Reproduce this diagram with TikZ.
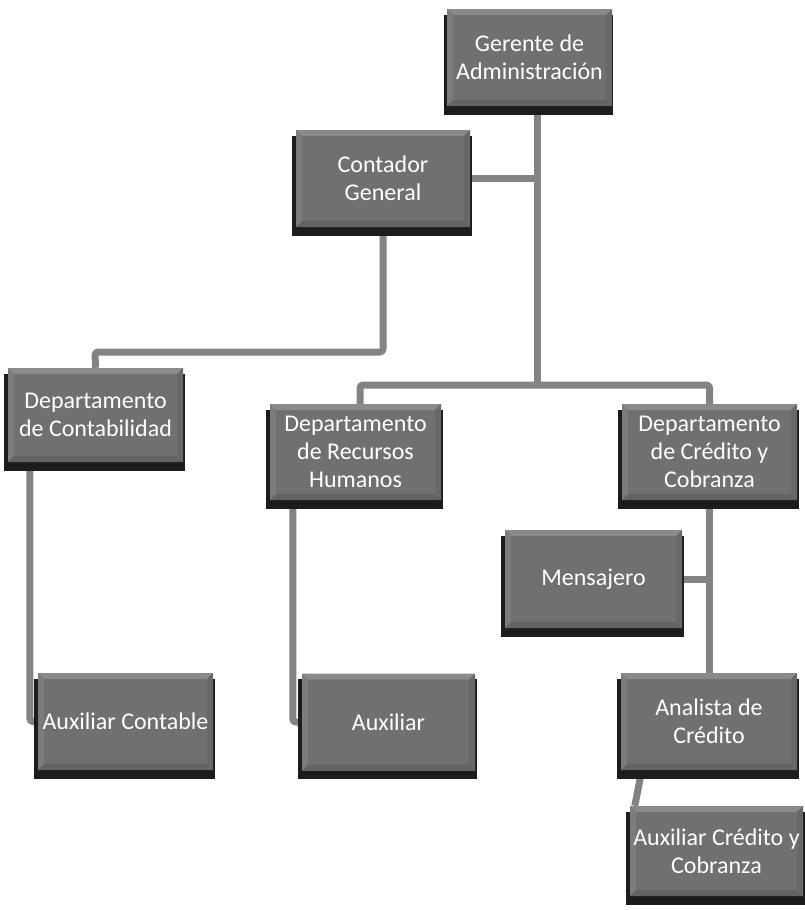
\documentclass[tikz,border=0pt]{standalone}
\usepackage{fontspec}
\setmainfont{Carlito}
\usetikzlibrary{shadows,calc}
\pgfdeclarelayer{bg}
\pgfsetlayers{bg,main}
\definecolor{boxfill}{HTML}{707070}
\definecolor{bevtop}{HTML}{8A8A8A}
\definecolor{bevleft}{HTML}{7C7C7C}
\definecolor{bevbot}{HTML}{636363}
\definecolor{bevright}{HTML}{686868}
\definecolor{shadowc}{HTML}{1C1C1C}
\definecolor{linec}{HTML}{838385}
\tikzset{
  orgbox/.style={draw=none, fill=boxfill, inner sep=0pt, align=center,
    text=white, font=\fontsize{24}{28}\selectfont,
    general shadow={fill=shadowc, shadow xshift=-1pt, shadow yshift=-7pt, shadow scale=1.03},
    path picture={
      \fill[bevtop] (path picture bounding box.north west) -- (path picture bounding box.north east)
        -- ([xshift=-6pt,yshift=-6pt]path picture bounding box.north east)
        -- ([xshift=6pt,yshift=-6pt]path picture bounding box.north west) -- cycle;
      \fill[bevleft] (path picture bounding box.north west) -- ([xshift=6pt,yshift=-6pt]path picture bounding box.north west)
        -- ([xshift=6pt,yshift=6pt]path picture bounding box.south west) -- (path picture bounding box.south west) -- cycle;
      \fill[bevbot] (path picture bounding box.south west) -- (path picture bounding box.south east)
        -- ([xshift=-6pt,yshift=6pt]path picture bounding box.south east)
        -- ([xshift=6pt,yshift=6pt]path picture bounding box.south west) -- cycle;
      \fill[bevright] (path picture bounding box.north east) -- ([xshift=-6pt,yshift=-6pt]path picture bounding box.north east)
        -- ([xshift=-6pt,yshift=6pt]path picture bounding box.south east) -- (path picture bounding box.south east) -- cycle;
    }},
  conn/.style={draw=linec, line width=7pt, rounded corners=3pt, line join=round}
}
\begin{document}
\begin{tikzpicture}[x=1pt,y=-1pt]
\useasboundingbox (0,0) rectangle (804,910);
\node[orgbox, minimum width=165pt, minimum height=97pt] (G) at (529.5,57.5) {Gerente de\\Administración};
\node[orgbox, minimum width=174pt, minimum height=97pt] (C) at (383,178.5) {Contador\\General};
\node[orgbox, minimum width=175pt, minimum height=94pt] (DC) at (95.5,415) {Departamento\\de Contabilidad};
\node[orgbox, minimum width=171pt, minimum height=96pt] (DR) at (355.5,452) {Departamento\\de Recursos\\Humanos};
\node[orgbox, minimum width=175pt, minimum height=96pt] (DCr) at (709.5,452) {Departamento\\de Crédito y\\Cobranza};
\node[orgbox, minimum width=177pt, minimum height=98pt] (M) at (593.5,579) {Mensajero};
\node[orgbox, minimum width=175pt, minimum height=97pt] (AC) at (125.5,721.5) {Auxiliar Contable};
\node[orgbox, minimum width=173pt, minimum height=97pt] (A) at (388.5,722) {Auxiliar};
\node[orgbox, minimum width=176pt, minimum height=97pt] (AN) at (709,721.5) {Analista de\\Crédito};
\node[orgbox, minimum width=173pt, minimum height=90pt] (ACC) at (716.5,851) {Auxiliar Crédito y\\Cobranza};
\coordinate (J) at (537,385);
\coordinate (K) at (95,352);
\begin{pgfonlayer}{bg}
\draw[conn] (J |- G.south) -- (J);
\draw[conn] ([xshift=4.5pt]DR.north) |- (J);
\draw[conn] (DCr.north) |- (J);
\draw[conn] (C.east) -- (C.east -| J);
\draw[conn] (C.south) |- (K) -- (DC.north);
\draw[conn] ([xshift=22pt]DC.south west) |- (AC.west);
\draw[conn] ([xshift=23pt]DR.south west) |- (A.west);
\draw[conn] (DCr.south) -- (DCr.south |- AN.north);
\draw[conn] (M.east) -- (M.east -| DCr.south);
\draw[conn] ([xshift=21pt]AN.south west) -- ([xshift=5pt]ACC.north west);
\end{pgfonlayer}
\end{tikzpicture}
\end{document}
